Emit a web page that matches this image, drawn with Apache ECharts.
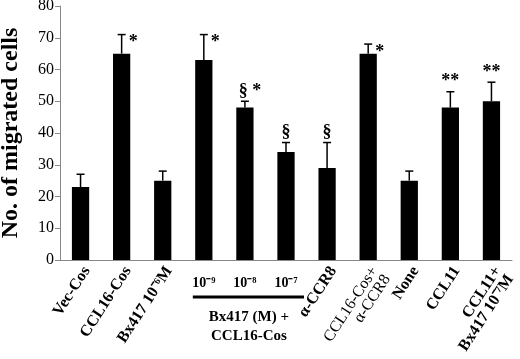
<!DOCTYPE html>
<html><head><meta charset="utf-8">
<script src="https://cdn.jsdelivr.net/npm/echarts@6/dist/echarts.min.js"></script>
<style>html,body{margin:0;padding:0;background:#fff}#c{width:520px;height:359px}</style>
</head><body><div id="c"></div>
<script>
var categories = ['Vec-Cos','CCL16-Cos','Bx417 10⁻⁶M','10⁻⁹','10⁻⁸','10⁻⁷','α-CCR8','CCL16-Cos+\nα-CCR8','None','CCL11','CCL11+\nBx417 10⁻⁷M'];
var values = [23, 65, 25, 63, 48, 34, 29, 65, 25, 48, 50];
var errTops = [27, 71, 28, 71, 50, 37, 37, 68, 28, 53, 56];
var annotations = ['', '*', '', '*', '§ *', '§', '§', '*', '', '**', '**'];
var yTicks = [0, 10, 20, 30, 40, 50, 60, 70, 80];
var groupLabel = 'Bx417 (M) +\nCCL16-Cos';
var groupIdx = [3, 4, 5];
var plainLabelIdx = [7];
var annotPlace = ['', 'right', '', 'right', 'above', 'above', 'above', 'right', '', 'above', 'above'];

var FONT = '"Liberation Serif", "Times New Roman", serif';
var chart = echarts.init(document.getElementById('c'));
var option = {
  animation: false,
  grid: {left: 60, right: 8, top: 6, bottom: 99, containLabel: false, outerBoundsMode: 'none'},
  xAxis: [{
    type: 'category', data: categories,
    axisLine: {lineStyle: {color: '#888', width: 1}},
    axisTick: {show: false},
    axisLabel: {
      interval: 0, rotate: 57, margin: 4, color: '#000', verticalAlign: 'top',
      fontFamily: FONT, fontWeight: 'bold', fontSize: 16, lineHeight: 15,
      formatter: function (v, i) {
        if (groupIdx.indexOf(i) >= 0) return '';
        if (plainLabelIdx.indexOf(i) >= 0) return v.split('\n').map(function (s) { return '{r|' + s + '}'; }).join('\n');
        return v;
      },
      rich: {r: {fontFamily: FONT, fontWeight: 'normal', fontSize: 16, lineHeight: 15, color: '#000'}}
    }
  }, {
    type: 'category', data: categories, position: 'bottom',
    axisLine: {show: false}, axisTick: {show: false}, splitLine: {show: false},
    axisLabel: {
      interval: 0, rotate: 0, margin: 16, color: '#000',
      fontFamily: FONT, fontWeight: 'bold', fontSize: 14,
      formatter: function (v, i) { return groupIdx.indexOf(i) >= 0 ? v : ''; }
    }
  }],
  yAxis: {
    type: 'value', min: yTicks[0], max: yTicks[yTicks.length - 1], interval: 10,
    name: 'No. of migrated cells', nameLocation: 'middle', nameGap: 37, nameRotate: 90,
    nameTextStyle: {fontFamily: FONT, fontWeight: 'bold', fontSize: 24, color: '#000'},
    axisLine: {show: true, lineStyle: {color: '#888'}},
    axisTick: {show: true, length: 5, lineStyle: {color: '#888'}},
    splitLine: {show: false},
    axisLabel: {color: '#000', fontFamily: FONT, fontSize: 16, margin: 6,
      formatter: function (v) { return String(Math.round(v)); }}
  },
  series: [{
    type: 'bar', data: values, barWidth: '42%',
    itemStyle: {color: '#000'}
  }, {
    type: 'custom',
    data: values.map(function (v, i) { return [i, v, errTops[i]]; }),
    renderItem: function (params, api) {
      var i = api.value(0);
      var p0 = api.coord([i, api.value(1)]);
      var p1 = api.coord([i, api.value(2)]);
      var cap = 4;
      var st = {stroke: '#000', lineWidth: 1.5};
      return {type: 'group', children: [
        {type: 'line', shape: {x1: p0[0], y1: p0[1], x2: p1[0], y2: p1[1]}, style: st},
        {type: 'line', shape: {x1: p1[0] - cap, y1: p1[1], x2: p1[0] + cap, y2: p1[1]}, style: st}
      ]};
    },
    z: 3
  }, {
    type: 'custom',
    data: values.map(function (v, i) { return [i, errTops[i]]; }),
    renderItem: function (params, api) {
      var i = api.value(0);
      var txt = annotations[i];
      if (!txt) return null;
      var p = api.coord([i, api.value(1)]);
      var place = annotPlace[i];
      var x, y, align;
      if (place === 'right') { x = p[0] + 7; y = p[1] + 8; align = 'left'; }
      else { x = p[0] + (txt.length > 2 ? 5 : 0); y = p[1] - 10; align = 'center'; }
      return {type: 'text', style: {
        text: txt, x: x, y: y, textAlign: align, textVerticalAlign: 'middle',
        font: 'bold 18px ' + FONT, fill: '#000'
      }};
    },
    z: 4
  }]
};
chart.setOption(option);

var a = chart.convertToPixel({xAxisIndex: 0}, groupIdx[0]);
var b = chart.convertToPixel({xAxisIndex: 0}, groupIdx[groupIdx.length - 1]);
var m = chart.convertToPixel({xAxisIndex: 0}, groupIdx[1]);
chart.setOption({graphic: [
  {type: 'line', shape: {x1: a - 11, y1: 297, x2: b + 18, y2: 297}, style: {stroke: '#000', lineWidth: 3}},
  {type: 'text', style: {text: groupLabel, x: m + 4, y: 308, textAlign: 'center', textVerticalAlign: 'top',
    font: 'bold 15px ' + FONT, lineHeight: 19, fill: '#000'}}
]});
</script></body></html>
